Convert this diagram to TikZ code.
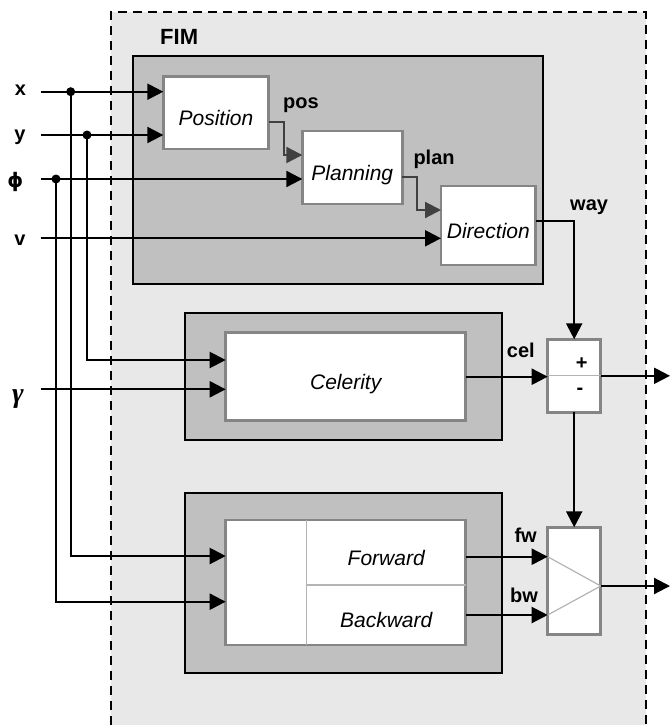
\documentclass[tikz,border=0pt]{standalone}
\usepackage{fontspec}
\setmainfont{Liberation Sans}
\newfontfamily\greekfont{DejaVu Sans}
\newfontfamily\gammafont{Liberation Serif}
\usetikzlibrary{arrows.meta}
\definecolor{fimgray}{HTML}{E8E8E8}
\definecolor{groupgray}{HTML}{C0C0C0}
\definecolor{blockgray}{HTML}{858585}
\definecolor{linkgray}{HTML}{404040}
\definecolor{splitgray}{HTML}{B4B4B4}
\begin{document}
\begin{tikzpicture}[x = 1pt, y = -1pt,
		block/.style = {draw = blockgray, fill = white, line width = 2.5pt, anchor = north west, inner sep = 0pt, outer sep = 0pt, text height = 25pt, text depth = 0pt, font = \fontsize{21}{25}\selectfont\itshape},
		group/.style = {draw = black, fill = groupgray, line width = 2.2pt, anchor = north west, inner sep = 0pt, outer sep = 0pt},
		sig/.style = {line width = 2.2pt, -{Triangle[length = 16pt, width = 16pt]}},
		link/.style = {sig, draw = linkgray},
		split/.style = {draw = splitgray, line width = 1.2pt},
		tag/.style = {font = \fontsize{20}{24}\selectfont\bfseries, inner sep = 0pt, anchor = west},
		greek/.style = {font = \greekfont\fontsize{20}{24}\selectfont\bfseries, inner sep = 0pt},
		dot/.style = {circle, fill = black, inner sep = 0pt, minimum size = 9pt}]
		\useasboundingbox (0, 0) rectangle (670, 725);
		\fill[fimgray] (110.7, 12.3) rectangle (645.7, 725);
		\draw[line width = 2.3pt, dash pattern = on 9pt off 6pt] (110.7, 725) -- (110.7, 12.3) -- (645.7, 12.3) -- (645.7, 725);
		\node[tag, font = \fontsize{22}{26}\selectfont\bfseries] (fim) at (160, 36.7) {FIM};
		%%%%%%%%%
		\node[group, minimum width = 410.6pt, minimum height = 228.6pt] (navgroup) at (132.7, 55.7) {};
		\node[group, minimum width = 317.3pt, minimum height = 127pt] (celgroup) at (185, 313.3) {};
		\node[group, minimum width = 317.3pt, minimum height = 180pt] (fbgroup) at (185, 493.3) {};
		%%%%%%%%%
		\node[block, minimum width = 105.4pt, minimum height = 72.3pt] (position) at (163.3, 76.7) {Position};
		\node[block, minimum width = 100pt, minimum height = 73pt] (planning) at (302.3, 131) {Planning};
		\node[block, minimum width = 94.7pt, minimum height = 79pt] (direction) at (441, 186) {Direction};
		\node[block, minimum width = 240pt, minimum height = 88pt] (celerity) at (225.7, 332.7) {Celerity};
		\node[block, minimum width = 240pt, minimum height = 125pt] (fbbox) at (225.7, 520) {};
		\node[block, draw = none, fill = none, minimum width = 159pt, minimum height = 65pt] (forward) at (306.7, 520) {Forward};
		\node[block, draw = none, fill = none, minimum width = 159pt, minimum height = 60pt] (backward) at (306.7, 585) {Backward};
		\draw[split] (forward.north west) -- (backward.south west);
		\draw[split] (forward.south west) -- (forward.south east);
		\node[block, minimum width = 53pt, minimum height = 73pt] (sum) at (547.7, 339.3) {};
		\draw[split] (sum.west) -- (sum.east);
		\node[tag, anchor = center] (plus) at (581.7, 364) {+};
		\node[tag, anchor = center] (minus) at (580, 391) {-};
		\node[block, minimum width = 53pt, minimum height = 107pt] (switch) at (547.7, 527.3) {};
		\coordinate (fwout) at ([yshift = -4.2pt]forward.east);
		\coordinate (apex) at ([yshift = -5.2pt]switch.east);
		\draw[split] (switch.west |- fwout) -- (apex) -- (switch.west |- backward.east);
		%%%%%%%%%
		\node[tag, anchor = base] (xlabel) at (20.5, 95) {x};
		\node[tag, anchor = base] (ylabel) at (20, 140.5) {y};
		\node[greek] (philabel) at (15.3, 181.5) {ϕ};
		\node[tag, anchor = base] (vlabel) at (20, 245) {v};
		\node[greek, font = \gammafont\fontsize{28}{32}\selectfont\bfseries\itshape] (gammalabel) at (18, 399) {γ};
		\coordinate (xin) at (40.7, 91.7);
		\coordinate (yin) at (40.7, 135);
		\coordinate (phiin) at (40.7, 179);
		\coordinate (vin) at (40.7, 238.3);
		\coordinate (gammain) at (40.7, 389.3);
		\coordinate (outedge) at (670, 0);
		%%%%%%%%%
		\draw[sig] (xin) -- (position.west |- xin);
		\draw[sig] (yin) -- (position.west |- yin);
		\draw[sig] (phiin) -- (planning.west |- phiin);
		\draw[sig] (vin) -- (direction.west |- vin);
		\draw[sig] (gammain) -- (celerity.west |- gammain);
		\node[dot] (xdot) at (70.7, 91.7) {};
		\node[dot] (ydot) at (87, 135) {};
		\node[dot] (phidot) at (56, 179) {};
		\draw[sig] (ydot.center) |- ([yshift = 16.7pt]celerity.west);
		\draw[sig] (xdot.center) |- ([yshift = 26.5pt]fbbox.west);
		\draw[sig] (phidot.center) |- ([yshift = -19.2pt]fbbox.west);
		%%%%%%%%%
		\draw[link] ([yshift = -8.85pt]position.east) -- ++(15.3, 0) |- ([yshift = 12.5pt]planning.west);
		\draw[link] ([yshift = -9.2pt]planning.east) -- ++(14.4, 0) |- ([yshift = 15.5pt]direction.west);
		\draw[sig] ([yshift = 4.5pt]direction.east) -| (sum.north);
		\draw[sig] (celerity.east) -- (sum.west |- celerity.east);
		\draw[sig] (sum.east) -- (sum.east -| outedge);
		\draw[sig] (sum.south) -- (switch.north);
		\draw[sig] (fwout) -- (switch.west |- fwout);
		\draw[sig] (backward.east) -- (switch.west |- backward.east);
		\draw[sig] (apex) -- (apex -| outedge);
		%%%%%%%%%
		\node[tag] (poslabel) at (283, 105.5) {pos};
		\node[tag] (planlabel) at (413.3, 159) {plan};
		\node[tag] (waylabel) at (570, 206.7) {way};
		\node[tag] (cellabel) at (506.7, 350) {cel};
		\node[tag] (fwlabel) at (514.3, 535) {fw};
		\node[tag] (bwlabel) at (510, 595.8) {bw};
	\end{tikzpicture}
\end{document}
